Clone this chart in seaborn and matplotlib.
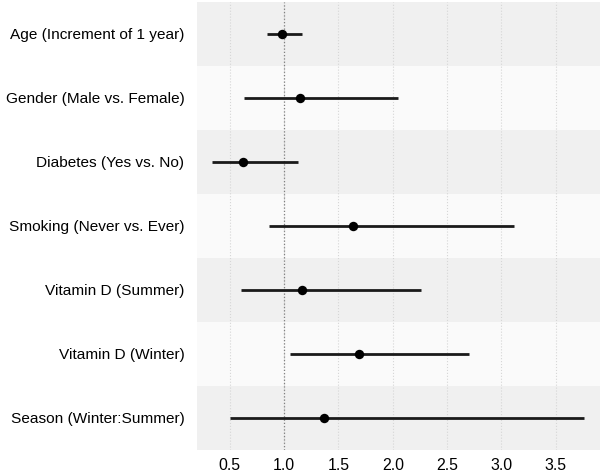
import numpy as np
import pandas as pd
import matplotlib
matplotlib.use("Agg")
import matplotlib.pyplot as plt
import seaborn as sns

# data (top to bottom)
labels = ["Age (Increment of 1 year)", "Gender (Male vs. Female)", "Diabetes (Yes vs. No)",
          "Smoking (Never vs. Ever)", "Vitamin D (Summer)", "Vitamin D (Winter)",
          "Season (Winter:Summer)"]
estimate = [0.98, 1.145, 0.617, 1.633, 1.166, 1.685, 1.366]
ci_low = [0.84, 0.63, 0.337, 0.862, 0.60, 1.05, 0.497]
ci_high = [1.16, 2.05, 1.13, 3.115, 2.26, 2.70, 3.76]
xticks = [0.5, 1.0, 1.5, 2.0, 2.5, 3.0, 3.5]

df = pd.DataFrame({"label": labels, "est": estimate, "lo": ci_low, "hi": ci_high})
df["pos"] = np.arange(len(df))

sns.set_style("white")
plt.rcParams["font.family"] = ["Liberation Sans", "DejaVu Sans"]

fig, ax = plt.subplots(figsize=(6, 4.75), dpi=100)
fig.subplots_adjust(left=0.328, right=1.0, top=0.996, bottom=0.053)

# striped row backgrounds
for i in df["pos"]:
    ax.axhspan(i - 0.5, i + 0.5, color="#f0f0f0" if i % 2 == 0 else "#fafafa", lw=0, zorder=0)

for t in xticks:
    ax.axvline(t, color="#d6d6d6", lw=0.8, ls=":", zorder=1)
ax.axvline(1.0, color="#808080", lw=0.9, ls=":", zorder=1)

ax.hlines(df["pos"], df["lo"], df["hi"], color="#1a1a1a", lw=2.0, zorder=2)
sns.scatterplot(data=df, x="est", y="pos", ax=ax, color="black", s=46,
                edgecolor="black", linewidth=0, zorder=3)

ax.set_xlim(0.196, 3.907)
ax.set_ylim(len(df) - 0.5, -0.5)
ax.set_yticks(df["pos"])
ax.set_yticklabels(labels, fontsize=11.1)
ax.set_xticks(xticks)
ax.set_xticklabels([f"{t:.1f}" for t in xticks], fontsize=11.4)
ax.tick_params(axis="y", length=0, pad=9, colors="black")
ax.tick_params(axis="x", length=0, pad=6, colors="black")
ax.set_xlabel("")
ax.set_ylabel("")
for s in ax.spines.values():
    s.set_visible(False)

fig.savefig("out.png", dpi=100)
